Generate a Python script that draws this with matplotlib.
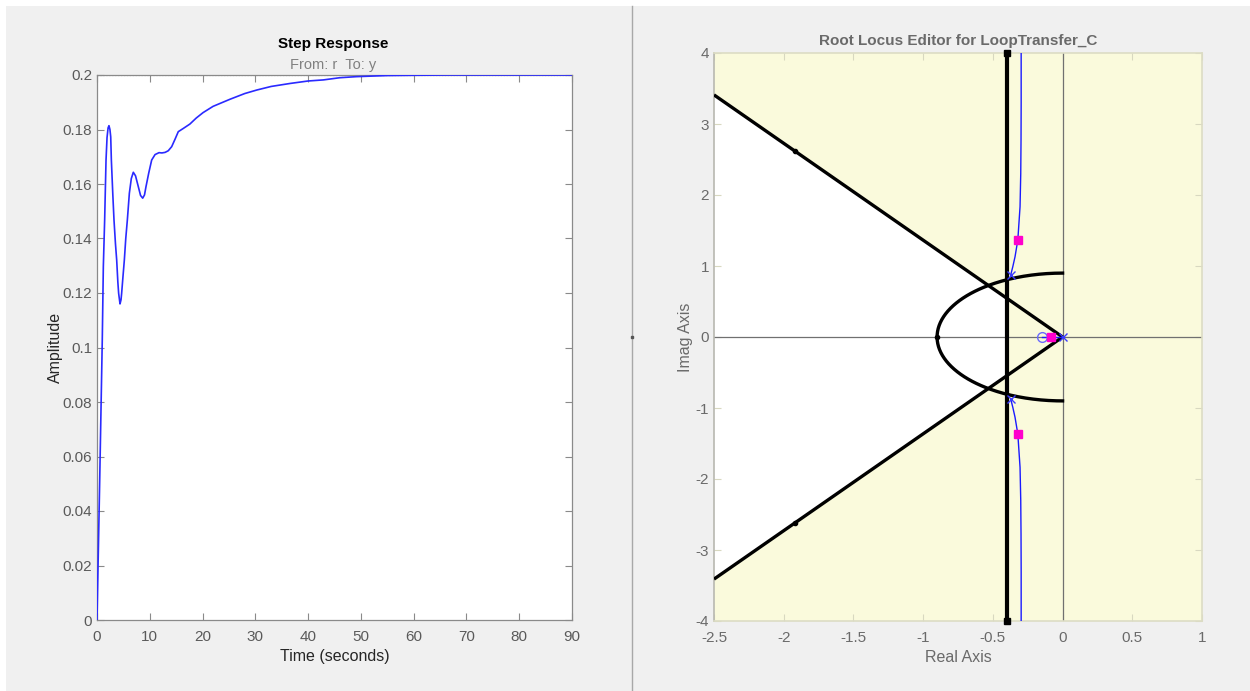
import numpy as np
import matplotlib
matplotlib.use("Agg")
import matplotlib.pyplot as plt
from matplotlib.patches import Rectangle, Polygon

plt.rcParams['font.family'] = ['Liberation Sans', 'DejaVu Sans']
plt.rcParams['axes.unicode_minus'] = False

# ---------------- data: step response ----------------
step_t = [0, 0.5, 1.0, 1.2, 1.45, 1.71, 1.9, 2.1, 2.27, 2.45, 2.6, 2.72, 3.0, 3.22, 3.5,
          3.73, 3.95, 4.1, 4.36, 4.55, 4.67, 4.9, 5.18, 5.45, 5.75, 6.13, 6.5, 6.88,
          7.3, 7.83, 8.25, 8.66, 9.0, 9.28, 9.8, 10.36, 11.0, 11.75, 12.3, 12.9,
          13.5, 14.15, 14.8, 15.4, 16.36, 17.6, 18.8, 20.1, 22.0, 25.2, 28.0, 30.3,
          33.0, 36.6, 40.0, 42.9, 46.0, 49.2, 55.0, 60.0, 66.3, 90.0]
step_y = [0, 0.050, 0.1028, 0.1297, 0.1468, 0.1688, 0.1770, 0.1806, 0.1814, 0.1800,
          0.1773, 0.1688, 0.1560, 0.1468, 0.1380, 0.1321, 0.1240, 0.1199, 0.1160,
          0.1175, 0.1199, 0.1255, 0.1321, 0.1400, 0.1468, 0.1566, 0.1620, 0.1643,
          0.1630, 0.1590, 0.1558, 0.1548, 0.1560, 0.1590, 0.1640, 0.1688, 0.1708,
          0.1715, 0.1714, 0.1716, 0.1722, 0.1737, 0.1765, 0.1792, 0.1804, 0.1820,
          0.1842, 0.1862, 0.1885, 0.1911, 0.1932, 0.1945, 0.1958, 0.1969, 0.1978,
          0.1982, 0.1990, 0.1994, 0.1998, 0.1999, 0.2000, 0.2000]
step_final = 0.2
step_xticks = [0, 10, 20, 30, 40, 50, 60, 70, 80, 90]
step_yticks = [0, 0.02, 0.04, 0.06, 0.08, 0.1, 0.12, 0.14, 0.16, 0.18, 0.2]
step_yticklabels = ['0', '0.02', '0.04', '0.06', '0.08', '0.1', '0.12', '0.14', '0.16', '0.18', '0.2']

# ---------------- data: root locus ----------------
cone_x = [0, -2.5]
cone_y = [0, 3.41]
settle_x = -0.4
wn_radius = 0.9
locus_upper_x = [-0.372, -0.357, -0.341, -0.321, -0.305, -0.300, -0.298, -0.297, -0.297]
locus_upper_y = [0.873, 0.99, 1.13, 1.366, 1.835, 2.3, 2.77, 3.3, 4.0]
plant_poles_x = [0.0, -0.372, -0.372]
plant_poles_y = [0.0, 0.873, -0.873]
plant_zero = (-0.147, 0.0)
cl_poles_x = [-0.32, -0.32, -0.08]
cl_poles_y = [1.37, -1.37, 0.0]
rl_xticks = [-2.5, -2, -1.5, -1, -0.5, 0, 0.5, 1]
rl_xticklabels = ['-2.5', '-2', '-1.5', '-1', '-0.5', '0', '0.5', '1']
rl_yticks = [-4, -3, -2, -1, 0, 1, 2, 3, 4]

W, H = 1250, 691
fig = plt.figure(figsize=(W / 100, H / 100), dpi=100, facecolor='white')

# background panel
bg = fig.add_axes([0, 0, 1, 1], zorder=-10)
bg.set_xlim(0, W)
bg.set_ylim(H, 0)
bg.axis('off')
bg.add_patch(Rectangle((6, 6), W - 6, H - 6, facecolor='#F0F0F0', edgecolor='none'))
bg.plot([632, 632], [6, H], color='#A8A8A8', lw=1)
bg.plot([632], [337], marker='s', ms=1.5, color='#555555')

tick_gray = '#5A5A5A'
spine_gray = '#8A8A8A'

# ---------------- left axes ----------------
ax1 = fig.add_axes([97 / W, 1 - 620 / H, 475 / W, 545 / H])
ax1.set_facecolor('white')
ax1.plot(step_t, step_y, color='#2A2AFF', lw=1.2, zorder=3)
ax1.axhline(step_final, color='#555555', lw=0.8, ls=':', zorder=2)
ax1.set_xlim(0, 90)
ax1.set_ylim(0, 0.2)
ax1.set_xticks(step_xticks)
ax1.set_yticks(step_yticks)
ax1.set_yticklabels(step_yticklabels)
ax1.tick_params(direction='in', top=True, right=True, length=5, width=0.8,
                colors=spine_gray, labelcolor=tick_gray, labelsize=11)
ax1.tick_params(axis='x', pad=7)
for s in ax1.spines.values():
    s.set_color(spine_gray)
    s.set_linewidth(0.9)
ax1.set_xlabel('Time (seconds)', fontsize=11.5, color='#262626', labelpad=4)
ax1.set_ylabel('Amplitude', fontsize=11.5, color='#262626', labelpad=0)
fig.text(333 / W, 1 - 44 / H, 'Step Response', ha='center', va='center',
         fontsize=11, fontweight='bold', color='black')
fig.text(333 / W, 1 - 65 / H, 'From: r  To: y', ha='center', va='center',
         fontsize=10.5, color='#808080')

# ---------------- right axes ----------------
ax2 = fig.add_axes([714 / W, 1 - 621 / H, 488 / W, 568 / H])
ax2.set_facecolor('#FAFADC')
ax2.set_xlim(-2.5, 1)
ax2.set_ylim(-4, 4)

slope = cone_y[1] / cone_x[1]
yb = abs(slope * settle_x)
white_poly = Polygon([[settle_x, yb], [cone_x[1], cone_y[1]], [cone_x[1], -cone_y[1]],
                      [settle_x, -yb]], closed=True, facecolor='white', edgecolor='none', zorder=1)
ax2.add_patch(white_poly)

ax2.axhline(0, color='#707070', lw=0.9, zorder=2)
ax2.axvline(0, color='#707070', lw=0.9, zorder=2)

# design constraints
ax2.plot(cone_x, cone_y, color='black', lw=2.4, zorder=4, solid_capstyle='butt')
ax2.plot(cone_x, [-v for v in cone_y], color='black', lw=2.4, zorder=4, solid_capstyle='butt')
th = np.linspace(np.pi / 2, 3 * np.pi / 2, 200)
ax2.plot(wn_radius * np.cos(th), wn_radius * np.sin(th), color='black', lw=2.4, zorder=4)
ax2.plot([settle_x, settle_x], [-4, 4], color='black', lw=3, zorder=4, clip_on=False)
ax2.plot([settle_x, settle_x], [-4, 4], ls='none', marker='s', ms=5, color='black',
         zorder=5, clip_on=False)
ax2.plot([-1.92, -1.92], [2.62, -2.62], ls='none', marker='o', ms=3, color='black', zorder=5)
ax2.plot([-wn_radius], [0], ls='none', marker='o', ms=3, color='black', zorder=5)

# root locus branches
ax2.plot(locus_upper_x, locus_upper_y, color='#1A1AFF', lw=1.0, zorder=6)
ax2.plot(locus_upper_x, [-v for v in locus_upper_y], color='#1A1AFF', lw=1.0, zorder=6)
ax2.plot([plant_zero[0], 0], [0, 0], color='#1A1AFF', lw=1.0, zorder=6)
ax2.plot(plant_poles_x, plant_poles_y, ls='none', marker='x', ms=6, mew=1.0,
         color='#3A3AFF', zorder=7)
ax2.plot([plant_zero[0]], [plant_zero[1]], ls='none', marker='o', ms=7, mfc='none',
         mew=1.0, color='#6A6AFF', zorder=7)
ax2.plot(cl_poles_x, cl_poles_y, ls='none', marker='s', ms=6, color='#FF00CC', zorder=8)

ax2.set_xticks(rl_xticks)
ax2.set_xticklabels(rl_xticklabels)
ax2.set_yticks(rl_yticks)
ax2.tick_params(direction='in', top=True, right=True, length=5, width=0.8,
                colors='#D8D8C0', labelcolor='#6A6A6A', labelsize=11)
ax2.tick_params(axis='x', pad=7)
for s in ax2.spines.values():
    s.set_color('#DCDCC4')
    s.set_linewidth(1.2)
ax2.spines['left'].set_color('#B8B8B0')
ax2.set_xlabel('Real Axis', fontsize=11.5, color='#6A6A6A', labelpad=4)
ax2.set_ylabel('Imag Axis', fontsize=11.5, color='#6A6A6A', labelpad=2)
fig.text(958 / W, 1 - 41 / H, 'Root Locus Editor for LoopTransfer_C', ha='center',
         va='center', fontsize=11, fontweight='bold', color='#6A6A6A')

fig.savefig('out.png', dpi=100, facecolor=fig.get_facecolor())
